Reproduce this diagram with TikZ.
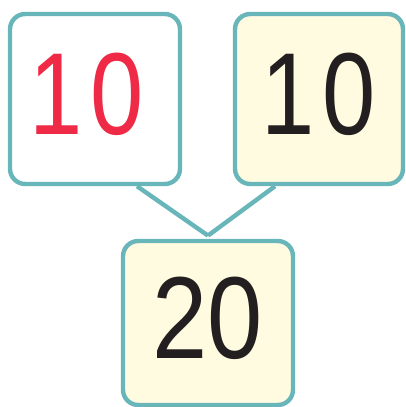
\documentclass[tikz,border=0pt]{standalone}
\usepackage{fontspec}
\setmainfont{Liberation Sans}
\usetikzlibrary{calc}
\definecolor{tealedge}{HTML}{68B6B9}
\definecolor{cream}{HTML}{FFFBE0}
\definecolor{digitred}{HTML}{EE2A46}
\definecolor{digitblack}{HTML}{231F20}
\tikzset{
  numbox/.style={
    rectangle, rounded corners=0.38cm, draw=tealedge, line width=0.11cm,
    fill=#1, minimum width=4.25cm, minimum height=4.25cm,
    inner sep=0pt, font=\fontsize{83}{83}\selectfont
  },
  numbox/.default=white,
  bondline/.style={draw=tealedge, line width=0.11cm},
}
% narrowed digits, raised a little in the box
\newcommand{\digits}[2][0.85]{\raisebox{0.25cm}{\scalebox{#1}[1]{#2}}}
\begin{document}
\begin{tikzpicture}
\useasboundingbox (0,0) rectangle (10.15,10.175);

% top boxes
\node[numbox, text=digitred] (partA) at (2.375,7.7)
  {\digits[0.82]{1\kern7pt0}\kern0.4cm};
\node[numbox=cream, text=digitblack, minimum width=4.2cm] (partB) at (7.975,7.7)
  {\digits[0.82]{1\kern7pt0}};

% whole
\node[numbox=cream, text=digitblack, minimum height=4.1cm] (whole) at (5.2,2.1) {\digits{20}};

% bonds
\coordinate (join) at ($(whole.north)+(0,0.08)$);
\draw[bondline] ($(partA.south)+(1.05,0)$) -- (join);
\draw[bondline] ($(partB.south)+(-1.1,0)$) -- (join);
\end{tikzpicture}
\end{document}
